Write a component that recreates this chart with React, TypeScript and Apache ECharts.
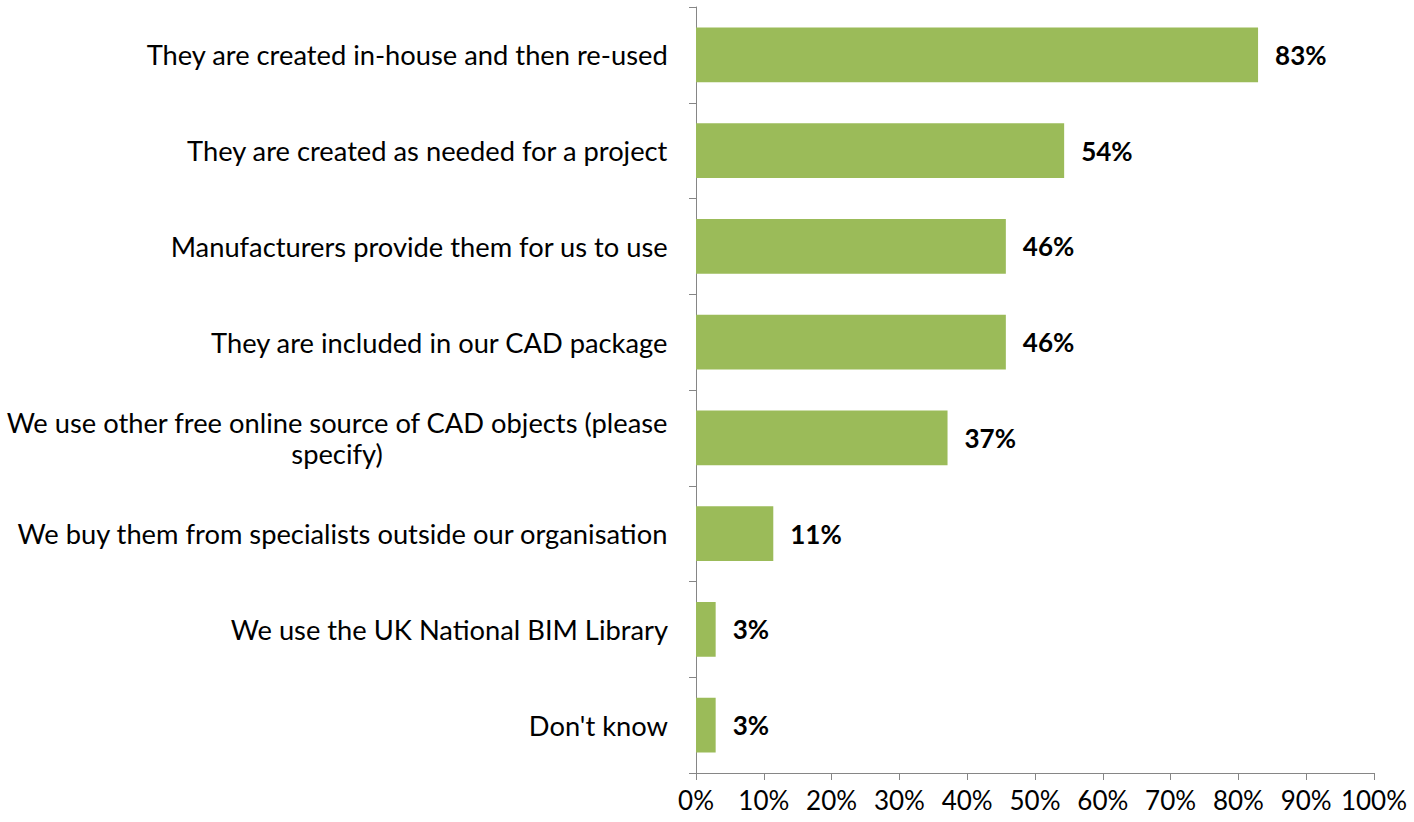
import React, { useEffect, useRef } from "react";
import * as echarts from "echarts";

const categories = [
  "They are created in-house and then re-used",
  "They are created as needed for a project",
  "Manufacturers provide them for us to use",
  "They are included in our CAD package",
  "We use other free online source of CAD objects (please\nspecify)",
  "We buy them from specialists outside our organisation",
  "We use the UK National BIM Library",
  "Don't know",
];
const values = [82.9, 54.3, 45.7, 45.7, 37.1, 11.4, 2.9, 2.9];
const xTicks = [0, 10, 20, 30, 40, 50, 60, 70, 80, 90, 100];

const FONT = "Lato";

export default function App() {
  const ref = useRef<HTMLDivElement>(null);
  useEffect(() => {
    if (!ref.current) return;
    const chart = echarts.init(ref.current, null, { renderer: "svg" });
    chart.setOption({
      animation: false,
      grid: { left: 696, top: 7, right: 40, bottom: 49, containLabel: false },
      xAxis: {
        type: "value",
        min: xTicks[0],
        max: xTicks[xTicks.length - 1],
        interval: 10,
        axisLine: { show: true, lineStyle: { color: "#868686", width: 1 } },
        axisTick: { show: true, length: 7, lineStyle: { color: "#868686" } },
        splitLine: { show: false },
        axisLabel: {
          formatter: "{value}%",
          fontFamily: FONT,
          fontSize: 26,
          color: "#000",
          margin: 14,
        },
      },
      yAxis: {
        type: "category",
        inverse: true,
        data: categories,
        axisLine: { show: true, lineStyle: { color: "#868686", width: 1 } },
        axisTick: { show: true, length: 7, lineStyle: { color: "#868686" } },
        axisLabel: {
          fontFamily: FONT,
          fontSize: 27.3,
          color: "#000",
          margin: 28,
          lineHeight: 31,
          formatter: (v: string) =>
            v
              .split("\n")
              .map((s) => `{a|${s}}`)
              .join("\n"),
          rich: { a: { fontFamily: FONT, fontSize: 27.3, color: "#000", align: "center", lineHeight: 31 } },
        },
      },
      series: [
        {
          type: "bar",
          data: values,
          barCategoryGap: "43%",
          itemStyle: { color: "#9BBB59" },
          label: {
            show: true,
            position: "right",
            distance: 17,
            formatter: (p: any) => `${Math.round(p.value)}%`,
            fontFamily: FONT,
            fontSize: 26,
            fontWeight: "bold",
            color: "#000",
          },
        },
      ],
    });
    return () => chart.dispose();
  }, []);
  return (
    <div
      ref={ref}
      style={{ position: "absolute", left: 0, top: 0, width: 1414, height: 822, background: "#fff" }}
    />
  );
}
